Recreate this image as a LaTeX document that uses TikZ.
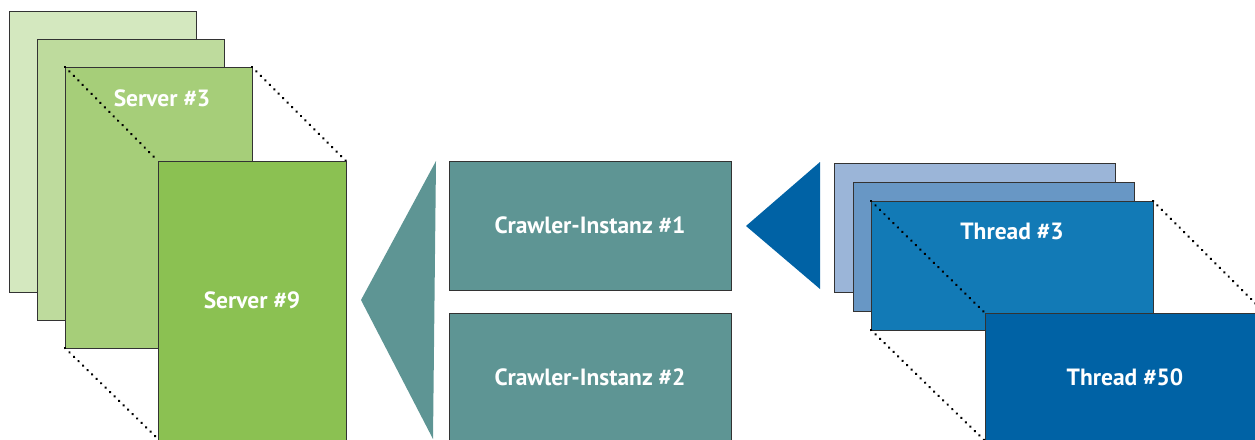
\documentclass[tikz,border=0pt]{standalone}
\usepackage{fontspec}
\setmainfont{PT Sans}
\usetikzlibrary{decorations.markings}
\definecolor{sA}{HTML}{D4E8BF}
\definecolor{sB}{HTML}{BEDB9D}
\definecolor{sC}{HTML}{A6CE79}
\definecolor{sD}{HTML}{8BC152}
\definecolor{teal}{HTML}{5E9594}
\definecolor{tA}{HTML}{9BB5D8}
\definecolor{tB}{HTML}{6897C5}
\definecolor{tC}{HTML}{127AB6}
\definecolor{tD}{HTML}{0062A5}
\definecolor{edge}{HTML}{333333}
\tikzset{
  card/.style={rectangle, draw=edge, line width=0.9pt, anchor=north west, outer sep=0pt, inner sep=0pt},
  lbl/.style={text=white, font=\fontsize{23.5}{28}\selectfont\bfseries},
  dots/.style={decoration={markings, mark=between positions 0 and 1 step 6.3pt with {\fill[black] (0,0) circle (1.4pt);}}, decorate},
}
\begin{document}
\begin{tikzpicture}[x=1pt,y=-1pt]
\useasboundingbox (0,0) rectangle (1255,439);
\begin{scope}
\clip (0,0) rectangle (1255,439);
% servers
\node[card, fill=sA, minimum width=187pt, minimum height=281pt] (s1) at (9,11) {};
\node[card, fill=sB, minimum width=187pt, minimum height=281pt] (s2) at (37,39) {};
\node[card, fill=sC, minimum width=187pt, minimum height=281pt] (s3) at (65,67) {};
\coordinate (s9nw) at (158,161);
\coordinate (s9ne) at (346,161);
\coordinate (s9sw) at (158,439);
\draw[dots] (s3.north west) -- (s9nw);
\draw[dots] (s3.north east) -- (s9ne);
\draw[dots] (s3.south west) -- (s9sw);
\node[card, fill=sD, minimum width=188pt, minimum height=300pt] (s9) at (s9nw) {};
\node[lbl] (s3l) at (162,98) {Server \#3};
\node[lbl] (s9l) at (252,300) {Server \#9};
% teal arrow
\coordinate (ta) at (361,300);
\coordinate (tb) at (436,161);
\coordinate (tc) at (433,439);
\fill[teal] (ta) -- (tb) -- (tc) -- cycle;
% crawlers
\node[card, fill=teal, minimum width=282pt, minimum height=129pt] (c1) at (449,161) {};
\node[card, fill=teal, minimum width=282pt, minimum height=140pt] (c2) at (449,313) {};
\node[lbl] (c1l) at (590,225) {Crawler-Instanz \#1};
\node[lbl] (c2l) at (590,377) {Crawler-Instanz \#2};
% blue triangle
\coordinate (ba) at (746,226);
\coordinate (bb) at (820,162);
\coordinate (bc) at (820,289);
\fill[tD] (ba) -- (bb) -- (bc) -- cycle;
% threads
\node[card, fill=tA, minimum width=281pt, minimum height=129pt] (t1) at (834,163) {};
\node[card, fill=tB, minimum width=281pt, minimum height=129pt] (t2) at (853,182) {};
\node[card, fill=tC, minimum width=282pt, minimum height=129pt] (t3) at (871,201) {};
\coordinate (t50nw) at (985,313);
\coordinate (t50ne) at (1258,306);
\coordinate (t50sw) at (985,441);
\draw[dots] (t3.north west) -- (t50nw);
\draw[dots] (t3.north east) -- (t50ne);
\draw[dots] (t3.south west) -- (t50sw);
\node[card, fill=tD, minimum width=282pt, minimum height=140pt] (t50) at (t50nw) {};
\node[lbl] (t3l) at (1012,231) {Thread \#3};
\node[lbl] (t50l) at (1125,377) {Thread \#50};
\end{scope}
\end{tikzpicture}
\end{document}
